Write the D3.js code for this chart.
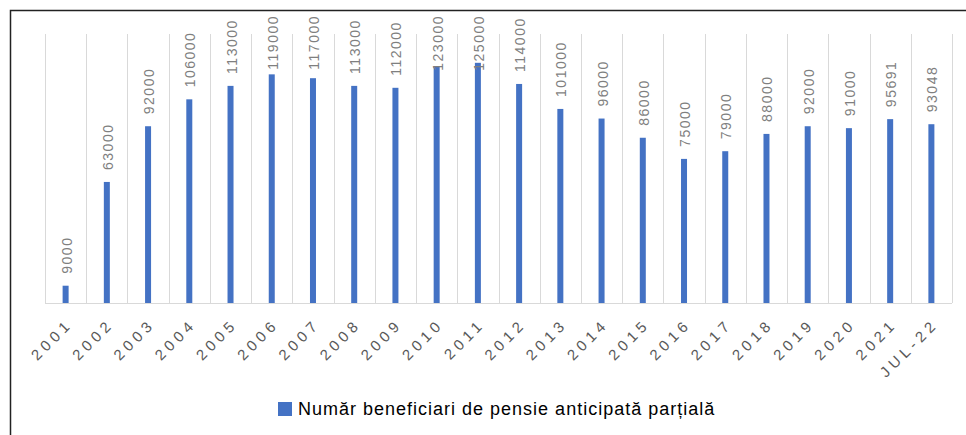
<!DOCTYPE html>
<html>
<head>
<meta charset="utf-8">
<script src="https://cdn.jsdelivr.net/npm/d3@7"></script>
<style>
    body { margin: 0; background: #fff; }
    svg { display: block; }
</style>
</head>
<body>
<svg width="966" height="435"></svg>
<script>
// categories and values
const years = ["2001", "2002", "2003", "2004", "2005", "2006", "2007", "2008", "2009", "2010", "2011",
    "2012", "2013", "2014", "2015", "2016", "2017", "2018", "2019", "2020", "2021", "JUL-22"];
const beneficiari = [9000, 63000, 92000, 106000, 113000, 119000, 117000, 113000, 112000, 123000, 125000,
    114000, 101000, 96000, 86000, 75000, 79000, 88000, 92000, 91000, 95691, 93048];
const seriesName = "Număr beneficiari de pensie anticipată parțială";

let svg = d3.select("svg"),
    width = +svg.attr("width"),
    height = +svg.attr("height");

const margin = { left: 45, right: 14, top: 34, bottom: 132 };
const barColour = "#4472c4";
const font = "Liberation Sans, Arial, sans-serif";

// outer frame (only left and top edges are visible in the picture)
svg.append("rect")
    .attr("x", 10.5)
    .attr("y", 10.5)
    .attr("width", width + 20)
    .attr("height", height + 20)
    .attr("fill", "none")
    .attr("stroke", "#222")
    .attr("stroke-width", 1.5);

let x = d3.scaleBand()
    .domain(years)
    .range([margin.left, width - margin.right])
    .paddingInner(0)
    .paddingOuter(0);

let y = d3.scaleLinear()
    .domain([0, 140000])
    .range([height - margin.bottom, margin.top]);

let g = svg.append("g");

// vertical gridlines at category edges
let edges = years.map(function (d) { return x(d); }).concat([x.range()[1]]);
g.append("g")
    .selectAll("line")
    .data(edges)
    .join("line")
    .attr("x1", function (d) { return Math.round(d) + 0.5; })
    .attr("x2", function (d) { return Math.round(d) + 0.5; })
    .attr("y1", y(140000))
    .attr("y2", y(0))
    .attr("stroke", "#d9d9d9")
    .attr("stroke-width", 1);

// baseline
g.append("line")
    .attr("x1", x.range()[0])
    .attr("x2", x.range()[1])
    .attr("y1", y(0) + 0.5)
    .attr("y2", y(0) + 0.5)
    .attr("stroke", "#d9d9d9")
    .attr("stroke-width", 1);

const barWidth = 6;
const data = years.map(function (d, i) { return { year: d, value: beneficiari[i] }; });

g.append("g")
    .selectAll("rect")
    .data(data)
    .join("rect")
    .attr("x", function (d) { return x(d.year) + x.bandwidth() / 2 - barWidth / 2; })
    .attr("y", function (d) { return y(d.value); })
    .attr("width", barWidth)
    .attr("height", function (d) { return y(0) - y(d.value); })
    .attr("fill", barColour);

// value labels, rotated; pushed down when they would run past the top
const labelTop = 15;
g.append("g")
    .selectAll("text")
    .data(data)
    .join("text")
    .attr("text-anchor", "start")
    .attr("font-family", font)
    .attr("font-size", 14)
    .attr("letter-spacing", 1.5)
    .attr("fill", "#7f7f7f")
    .text(function (d) { return d.value; })
    .attr("transform", function (d) {
        let len = this.getComputedTextLength();
        let start = Math.max(y(d.value) - 12, labelTop + len);
        return "translate(" + (x(d.year) + x.bandwidth() / 2 + 6) + "," + start + ") rotate(-90)";
    });

// x axis labels, rotated -45
let xAxis = d3.axisBottom(x).tickSize(0).tickPadding(0);
let ax = g.append("g")
    .attr("transform", "translate(0," + y(0) + ")")
    .call(xAxis);
ax.select(".domain").remove();
ax.selectAll("text")
    .attr("transform", "translate(8,22) rotate(-45)")
    .attr("dy", 0)
    .attr("y", 0)
    .attr("text-anchor", "end")
    .attr("font-family", font)
    .attr("font-size", 15)
    .attr("letter-spacing", 4.5)
    .attr("fill", "#595959");

// legend
let legend = svg.append("g")
    .attr("transform", "translate(278,402)");
legend.append("rect")
    .attr("width", 14)
    .attr("height", 14)
    .attr("fill", barColour);
legend.append("text")
    .attr("x", 20)
    .attr("y", 7)
    .attr("dy", "0.35em")
    .attr("font-family", font)
    .attr("font-size", 18)
    .attr("letter-spacing", 1)
    .attr("fill", "#000")
    .text(seriesName);
</script>
</body>
</html>
